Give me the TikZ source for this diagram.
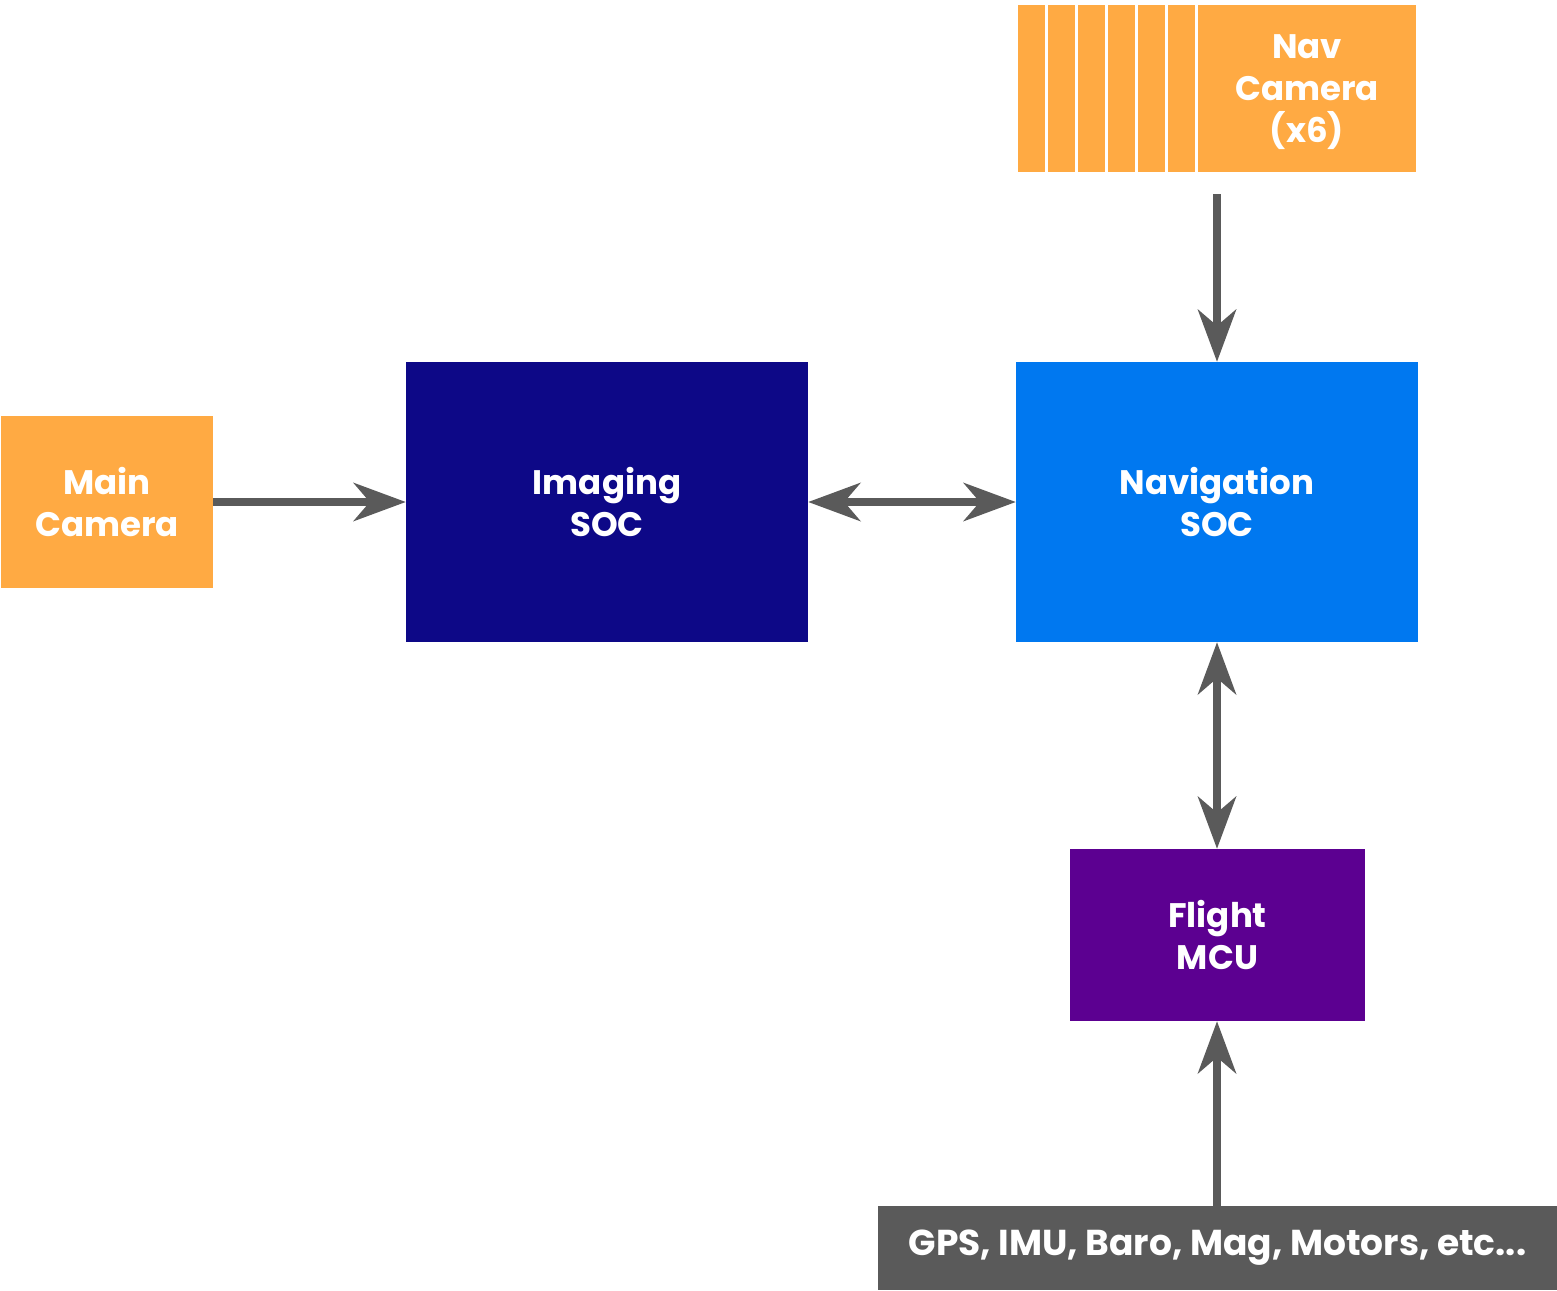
\documentclass[tikz,border=0pt]{standalone}
\usepackage{fontspec}
\setmainfont{Poppins}
\usepackage{tikz}
\usetikzlibrary{arrows.meta}
\definecolor{camorange}{RGB}{255,170,67}
\definecolor{imgnavy}{RGB}{13,8,135}
\definecolor{navblue}{RGB}{0,120,240}
\definecolor{mcupurple}{RGB}{92,0,145}
\definecolor{linkgrey}{RGB}{90,90,90}

\begin{document}
\begin{tikzpicture}[x=1pt,y=-1pt,
  box/.style={inner sep=0pt,align=center,text=white,
              font=\fontsize{34}{42}\selectfont\bfseries},
  camera/.style={box,fill=camorange},
  strip/.style={fill=camorange,inner sep=0pt,minimum width=27pt,minimum height=167pt},
  arrow/.style={-{Stealth[length=52pt,width=38pt,inset=16pt]},line width=8pt,draw=linkgrey},
  biarrow/.style={arrow,{Stealth[length=52pt,width=38pt,inset=16pt]}-{Stealth[length=52pt,width=38pt,inset=16pt]}}
]
\useasboundingbox (0,0) rectangle (1557,1290);

% Camera inputs.
\node[camera,minimum width=212pt,minimum height=172pt] (maincam) at (107,502)
  {Main\\Camera};
\foreach \i/\x in {1/1031.5,2/1061.5,3/1091.5,4/1121.5,5/1151.5,6/1181}
  \node[strip] (strip\i) at (\x,88.5) {};
\node[camera,minimum width=218pt,minimum height=167pt,text depth=0pt] (navcam) at (1307,88.5)
  {Nav\\Camera\\(x6)};
\coordinate (navcambase) at (1217,194);

% Processing units.
\node[box,fill=imgnavy,minimum width=402pt,minimum height=280pt] (imgsoc) at (607,502)
  {Imaging\\SOC};
\node[box,fill=navblue,minimum width=402pt,minimum height=280pt] (navsoc) at (1217,502)
  {Navigation\\SOC};
\node[box,fill=mcupurple,minimum width=295pt,minimum height=172pt] (flightmcu) at (1217.5,935)
  {Flight\\MCU};
\node[box,fill=linkgrey,minimum width=679pt,minimum height=84pt,
      font=\fontsize{36}{42}\selectfont\bfseries] (sensors) at (1217.5,1248)
  {GPS, IMU, Baro, Mag, Motors, etc...};

% Links.
\draw[arrow] (maincam) -- (imgsoc);
\draw[biarrow] (imgsoc) -- (navsoc);
\draw[arrow] (navcambase) -- (navsoc);
\draw[biarrow] (navsoc) -- (flightmcu.north -| navsoc.south);
\draw[arrow] (sensors.north -| navsoc.south) -- (flightmcu.south -| navsoc.south);
\end{tikzpicture}
\end{document}
